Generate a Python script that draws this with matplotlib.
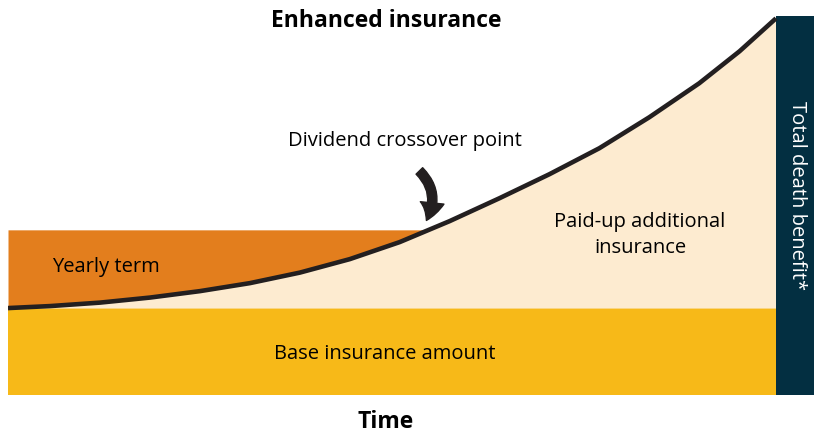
import numpy as np
import matplotlib.pyplot as plt

plt.rcParams['font.family'] = ['Open Sans', 'DejaVu Sans']

# time (years) and total benefit along the curve (base amount = 100)
years = np.array([0, 2.2, 4.8, 7.4, 10.0, 12.6, 15.2, 17.8, 20.4, 23.0, 25.6, 28.2,
                  30.8, 33.4, 36.0, 38.1, 40])
benefit = np.array([100, 102.3, 106.3, 112.1, 119.5, 128.7, 140.8, 156.3, 175.9, 200.0,
                    226.4, 254.0, 283.9, 319.5, 358.6, 395.4, 433.3])
base_amount = 100
yearly_term_top = 190
total_benefit = 436
end_year = 40

W, H = 814, 433
fig = plt.figure(figsize=(W / 100, H / 100), dpi=100)
ax = fig.add_axes([8 / W, 38 / H, (W - 8) / W, 379 / H])
ax.set_xlim(0, end_year + 38 / 768 * end_year)
ax.set_ylim(0, total_benefit)
ax.axis('off')

# base insurance
ax.bar(0, base_amount, width=end_year, align='edge', color='#F7B918', linewidth=0)
# paid-up additions under the curve
ax.fill_between(years, base_amount, benefit, color='#FDEBD0', linewidth=0)
# yearly term above the curve until crossover
ax.fill_between(years, benefit, yearly_term_top, where=benefit <= yearly_term_top,
                interpolate=True, color='#E37E1D', linewidth=0)
# total death benefit bar
ax.bar(end_year, total_benefit, width=38 / 768 * end_year, align='edge', color='#032F41', linewidth=0)
ax.plot(years, benefit, color='#231F20', lw=3.3, solid_capstyle='butt', solid_joinstyle='round')

def px(x, y):
    return x / W, 1 - y / H

fs = 14.5
fig.text(*px(386, 21), 'Enhanced insurance', ha='center', va='center', fontsize=16.5, fontweight='bold')
fig.text(*px(386, 422), 'Time', ha='center', va='center', fontsize=16.5, fontweight='bold')
fig.text(*px(405, 141), 'Dividend crossover point', ha='center', va='center', fontsize=fs)
fig.text(*px(106, 267), 'Yearly term', ha='center', va='center', fontsize=fs)
fig.text(*px(640, 235), 'Paid-up additional\ninsurance', ha='center', va='center',
         fontsize=fs, linespacing=1.35)
fig.text(*px(385, 354), 'Base insurance amount', ha='center', va='center', fontsize=fs)
fig.text(*px(797, 196), 'Total death benefit*', ha='center', va='center', fontsize=fs,
         rotation=270, color='white')

cross = np.interp(yearly_term_top, benefit, years)
ax.annotate('', xy=(cross - 0.2, yearly_term_top + 8), xytext=(cross - 0.6, yearly_term_top + 70),
            arrowprops=dict(arrowstyle='simple,head_length=0.7,head_width=0.9,tail_width=0.35',
                            connectionstyle='arc3,rad=-0.4', color='#231F20', mutation_scale=19))

fig.savefig('out.png', dpi=100)
